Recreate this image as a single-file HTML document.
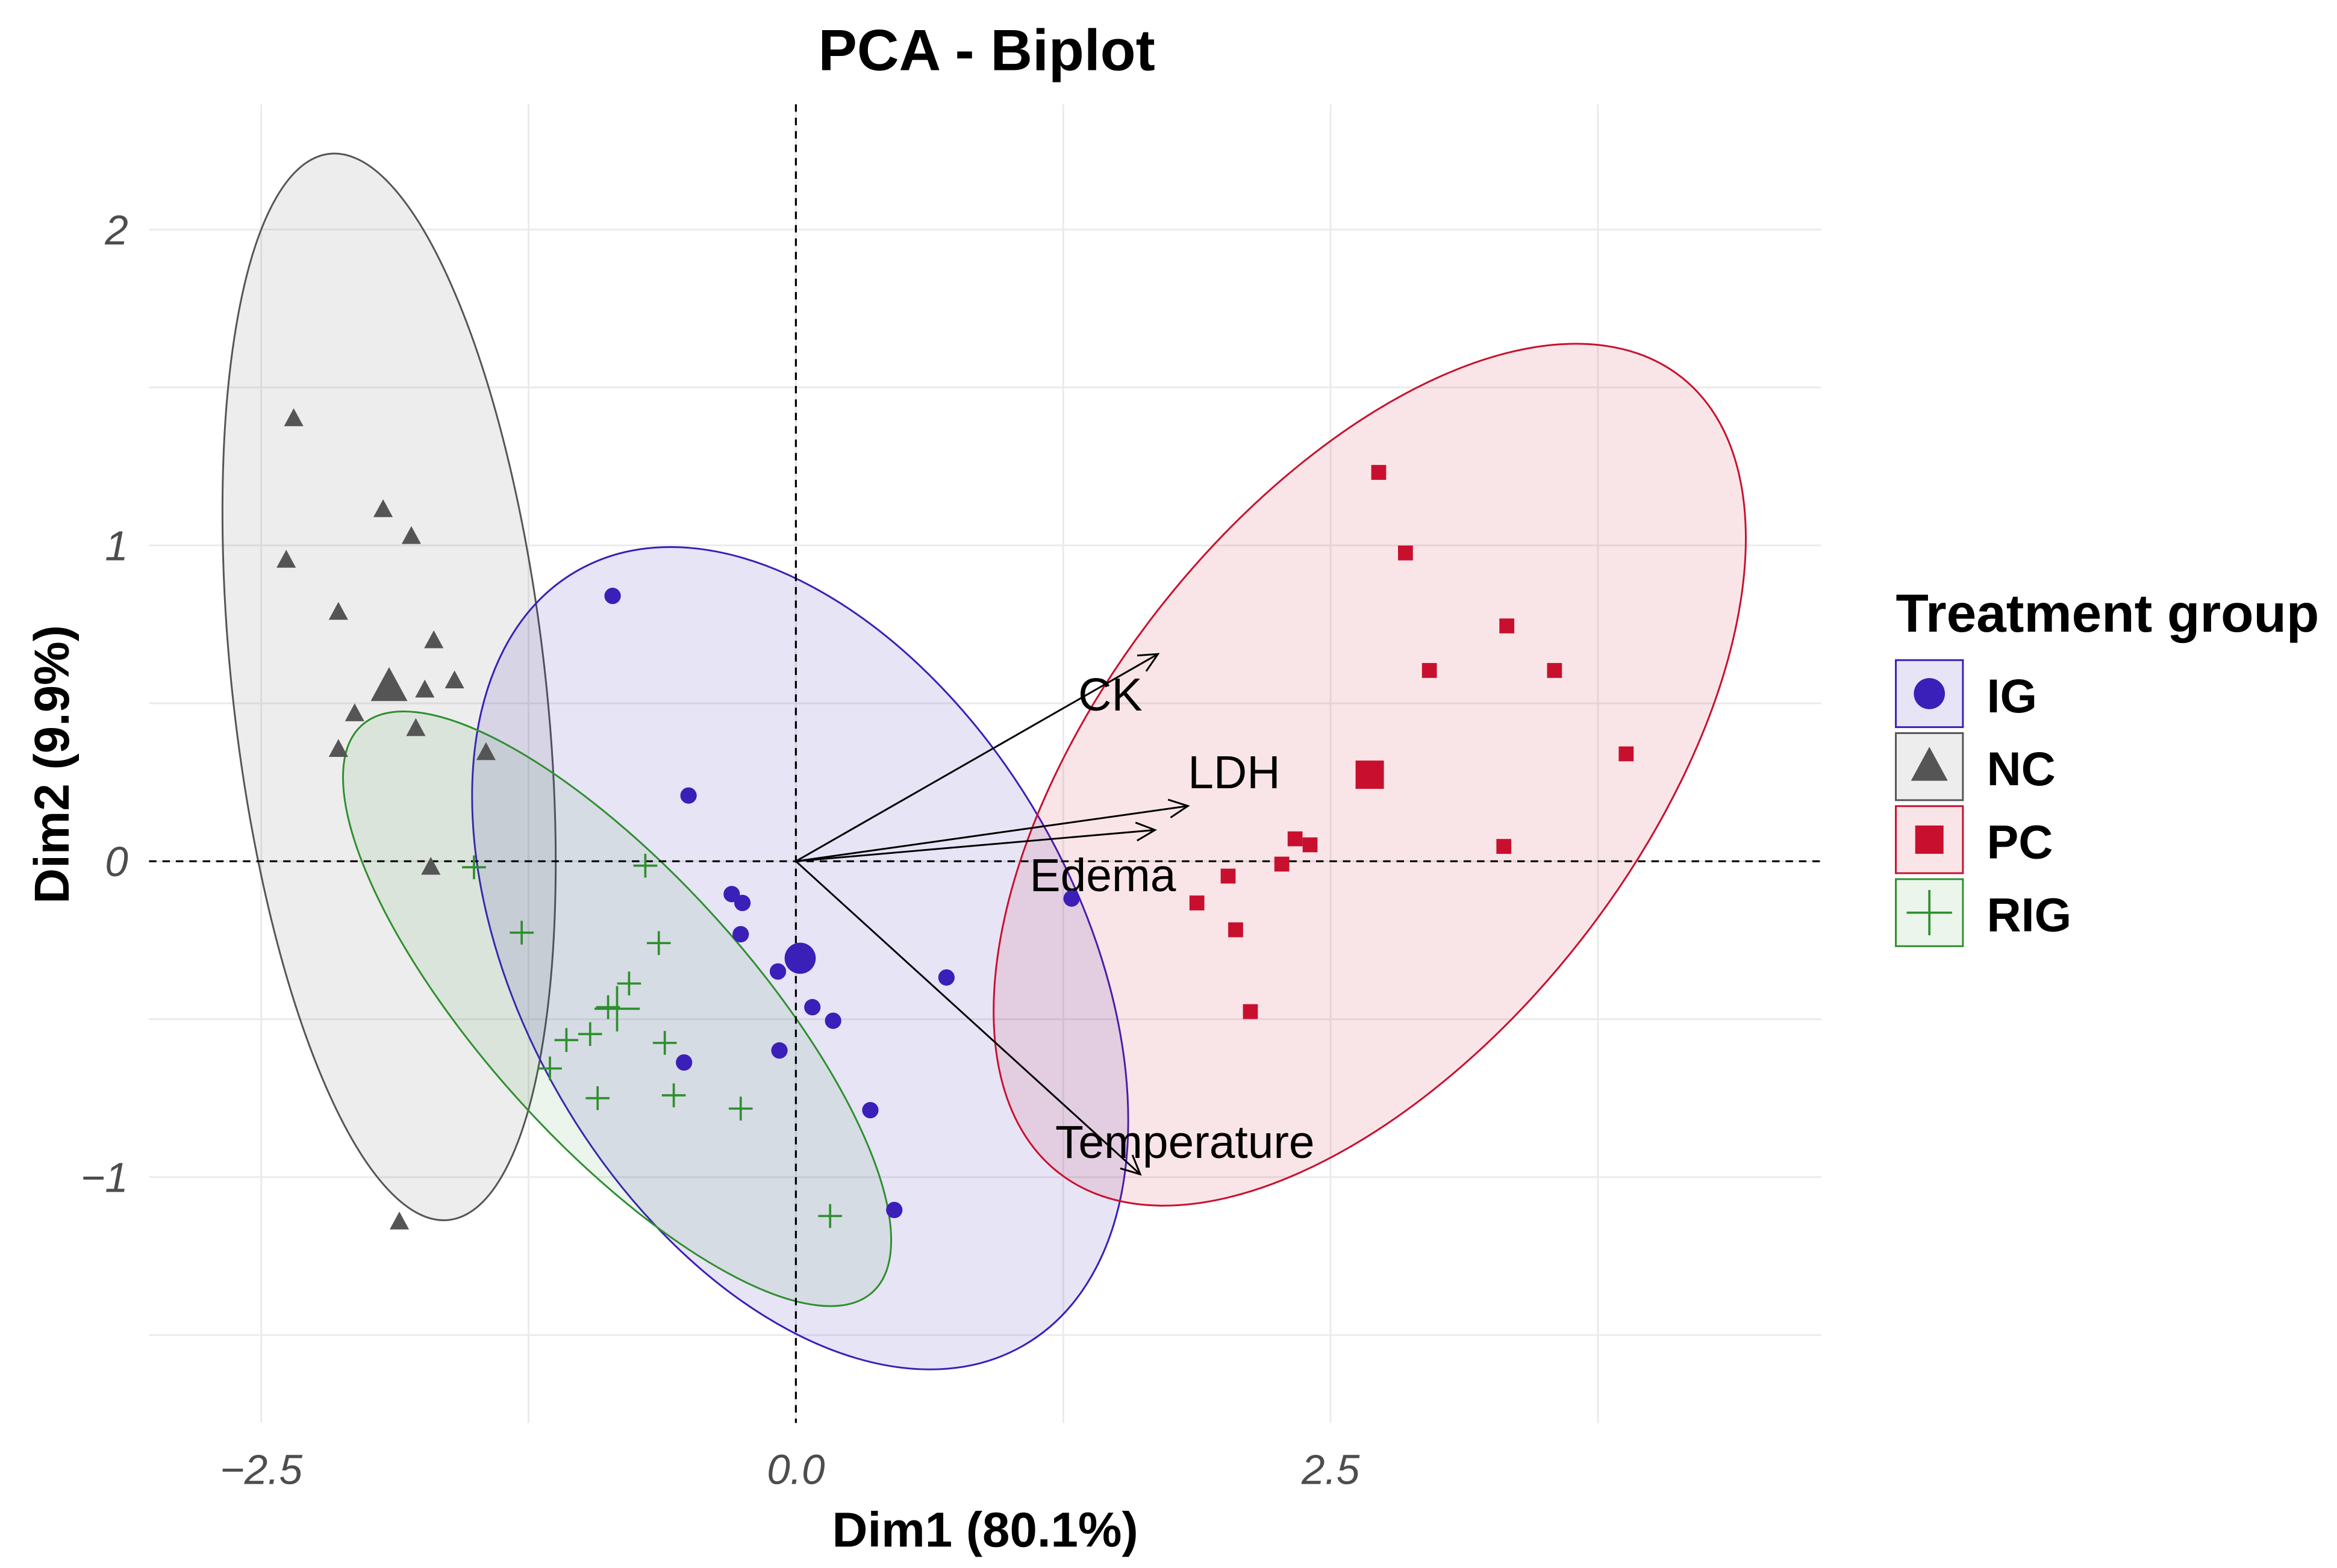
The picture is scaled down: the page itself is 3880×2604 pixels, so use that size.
<!DOCTYPE html>
<html><head><meta charset="utf-8">
<style>html,body{margin:0;padding:0;background:#fff}svg{display:block}text{font-family:"Liberation Sans",sans-serif}</style>
</head><body>
<svg id="chart" width="3880" height="2604" viewBox="0 0 1568 1052.3" xmlns="http://www.w3.org/2000/svg">
<rect width="1568" height="1052.3" fill="#fff"/>
<g id="grid"></g>
<g id="ellipses"></g>
<g id="refs"></g>
<g id="arrows"></g>
<g id="points"></g>
<g id="axes"></g>
<text x="662" y="47" text-anchor="middle" font-size="39" font-weight="bold">PCA - Biplot</text>
<text x="661" y="1038" text-anchor="middle" font-size="33" font-weight="bold">Dim1 (80.1%)</text>
<text transform="translate(46,513) rotate(-90)" text-anchor="middle" font-size="33" font-weight="bold">Dim2 (9.9%)</text>
<g id="legend">
<text x="1272" y="424" font-size="36" font-weight="bold">Treatment group</text>
</g>
</svg>
<script>
const groups = ["IG","NC","PC","RIG"];
const colors = {IG:"#3a1fb8",NC:"#555555",PC:"#c8102e",RIG:"#2f8f2f"};
const fills = {IG:"rgba(58,31,184,0.12)",NC:"rgba(110,110,110,0.12)",PC:"rgba(200,16,46,0.11)",RIG:"rgba(47,143,47,0.09)"};
const igX = [-0.857,-0.502,-0.3,-0.25,-0.258,-0.084,0.077,0.174,-0.077,-0.523,0.348,0.46,0.704,1.289];
const igY = [0.84,0.208,-0.104,-0.132,-0.231,-0.349,-0.462,-0.505,-0.599,-0.637,-0.788,-1.104,-0.368,-0.118];
const ncX = [-2.348,-2.383,-1.93,-1.798,-2.139,-1.693,-2.063,-1.735,-1.596,-1.777,-2.139,-1.449,-1.707,-1.854];
const ncY = [1.401,0.953,1.113,1.028,0.788,0.698,0.467,0.542,0.571,0.42,0.354,0.344,-0.019,-1.142];
const pcX = [2.725,2.85,3.324,2.962,3.547,3.882,2.334,2.404,2.272,3.31,2.021,1.875,2.056,2.125];
const pcY = [1.231,0.976,0.745,0.604,0.604,0.34,0.071,0.052,-0.009,0.047,-0.047,-0.132,-0.217,-0.476];
const rigX = [-1.505,-0.704,-1.282,-0.641,-0.78,-0.878,-1.073,-0.962,-0.613,-1.15,-0.927,-0.571,-0.258,0.16];
const rigY = [-0.019,-0.014,-0.226,-0.259,-0.387,-0.462,-0.566,-0.547,-0.575,-0.656,-0.75,-0.741,-0.783,-1.123];
const centX = [0.02,-1.902,2.683,-0.836];
const centY = [-0.307,0.552,0.274,-0.467];
const varNames = ["CK","LDH","Edema","Temperature"];
const varX = [1.693,1.833,1.679,1.61];
const varY = [0.656,0.175,0.099,-0.991];
const xTicks = [-2.5,0,2.5];
const xTickLabels = ["\u22122.5","0.0","2.5"];
const yTicks = [-1,0,1,2];
const yTickLabels = ["\u22121","0","1","2"];

const NS="http://www.w3.org/2000/svg";
const X0=534, XS=143.5, Y0=578, YS=212, PL=100, PR=1222, PT=70, PB=955;
const sx=v=>X0+v*XS, sy=v=>Y0-v*YS;
function mk(tag,attrs,parent){const e=document.createElementNS(NS,tag);for(const k in attrs)e.setAttribute(k,attrs[k]);parent.appendChild(e);return e;}
const grid=document.getElementById('grid');
for(let v=-2.5;v<=3.76;v+=1.25){const l=mk('line',{x1:sx(v),x2:sx(v),y1:PT,y2:PB,stroke:"#ebebeb","stroke-width":1.2},grid);

}
for(let v=-1.5;v<=2.01;v+=0.5){const l=mk('line',{x1:PL,x2:PR,y1:sy(v),y2:sy(v),stroke:"#ebebeb","stroke-width":1.2},grid);

}
const ellRx=[186,105,180,90], ellRy=[300,360,339,256], ellRot=[-30,-6.4,38,-42];
const eg=document.getElementById('ellipses');
[1,0,3,2].forEach(i=>{const g=groups[i];const cx=sx(centX[i]),cy=sy(centY[i]);
const e=mk('ellipse',{cx:cx,cy:cy,rx:ellRx[i],ry:ellRy[i],transform:`rotate(${ellRot[i]} ${cx} ${cy})`,fill:fills[g],stroke:colors[g],"stroke-width":1.2},eg);

});
const refs=document.getElementById('refs');
let r1=mk('line',{x1:PL,x2:PR,y1:sy(0),y2:sy(0),stroke:"#000","stroke-width":1.3,"stroke-dasharray":"5 4"},refs);


let r2=mk('line',{x1:sx(0),x2:sx(0),y1:PT,y2:PB,stroke:"#000","stroke-width":1.3,"stroke-dasharray":"5 4"},refs);


const ag=document.getElementById('arrows');
const labOff=[[-32,27],[31,-23],[-35,30],[30,-22]];
varNames.forEach((n,i)=>{const x2=sx(varX[i]),y2=sy(varY[i]);const ang=Math.atan2(y2-Y0,x2-X0);
const l=mk('line',{x1:X0,y1:Y0,x2:x2,y2:y2,stroke:"#000","stroke-width":1.2},ag);


const h=14,a=0.45;
const p=mk('polyline',{points:`${x2-h*Math.cos(ang-a)},${y2-h*Math.sin(ang-a)} ${x2},${y2} ${x2-h*Math.cos(ang+a)},${y2-h*Math.sin(ang+a)}`,fill:"none",stroke:"#000","stroke-width":1.2},ag);


const t=mk('text',{x:x2+labOff[i][0],y:y2+labOff[i][1]+11,"text-anchor":"middle","font-size":31},ag);t.textContent=n;

});
const pg=document.getElementById('points');
function marker(g,x,y,big,parent){const c=colors[g];const s=big?1.9:1;let e;
if(g==="IG")e=mk('circle',{cx:x,cy:y,r:5.5*s,fill:c},parent);
else if(g==="NC")e=mk('polygon',{points:`${x},${y-7*s} ${x-6.5*s},${y+5*s} ${x+6.5*s},${y+5*s}`,fill:c},parent);
else if(g==="PC")e=mk('rect',{x:x-5*s,y:y-5*s,width:10*s,height:10*s,fill:c},parent);
else e=mk('path',{d:`M${x-8*s},${y}H${x+8*s}M${x},${y-8*s}V${y+8*s}`,stroke:c,"stroke-width":1.5},parent);
return e;}
const data={IG:[igX,igY],NC:[ncX,ncY],PC:[pcX,pcY],RIG:[rigX,rigY]};
groups.forEach((g,gi)=>{const [xs,ys]=data[g];xs.forEach((v,i)=>{const e=marker(g,sx(v),sy(ys[i]),false,pg);

});
const c=marker(g,sx(centX[gi]),sy(centY[gi]),true,pg);

});
const ax=document.getElementById('axes');
xTicks.forEach((v,i)=>{const t=mk('text',{x:sx(v),y:996,"text-anchor":"middle","font-size":28,"font-style":"italic",fill:"#4d4d4d"},ax);t.textContent=xTickLabels[i];

});
yTicks.forEach((v,i)=>{const t=mk('text',{x:86,y:sy(v)+10,"text-anchor":"end","font-size":28,"font-style":"italic",fill:"#4d4d4d"},ax);t.textContent=yTickLabels[i];

});
const lg=document.getElementById('legend');
groups.forEach((g,i)=>{const y=443+i*49;
const b=mk('rect',{x:1272,y:y,width:45,height:45,fill:fills[g],stroke:colors[g],"stroke-width":1.2},lg);


const m=marker(g,1294.5,y+22.5,true,lg);


const t=mk('text',{x:1333,y:y+35,"font-size":32,"font-weight":"bold"},lg);t.textContent=g;

});
</script>
</body></html>
